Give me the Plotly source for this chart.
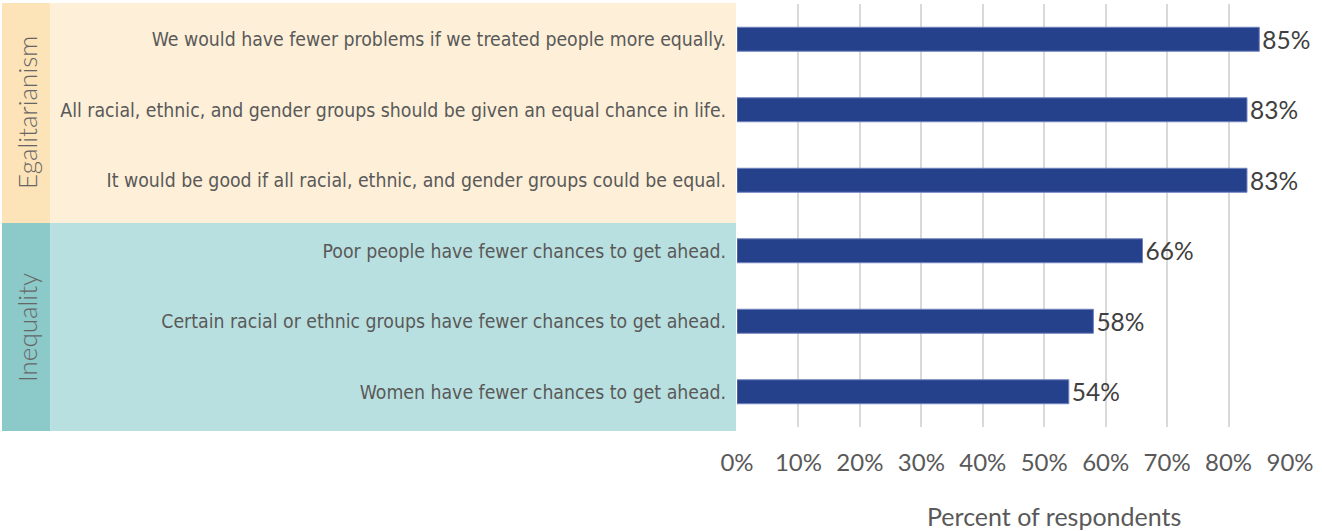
import plotly.graph_objects as go

statements = [
    "We would have fewer problems if we treated people more equally.",
    "All racial, ethnic, and gender groups should be given an equal chance in life.",
    "It would be good if all racial, ethnic, and gender groups could be equal.",
    "Poor people have fewer chances to get ahead.",
    "Certain racial or ethnic groups have fewer chances to get ahead.",
    "Women have fewer chances to get ahead.",
]
percent = [0.85, 0.83, 0.83, 0.66, 0.58, 0.54]
groups = ["Egalitarianism", "Inequality"]
x_ticks = [0, 0.1, 0.2, 0.3, 0.4, 0.5, 0.6, 0.7, 0.8, 0.9]
x_tick_labels = ["0%", "10%", "20%", "30%", "40%", "50%", "60%", "70%", "80%", "90%"]

W, H = 1322, 531
TOP, BOT = 4, 427
L, R = 737, 1290


def px_x(p):
    return p / W


def px_y(p):
    return (BOT - p) / (BOT - TOP)


fig = go.Figure()
fig.add_trace(go.Bar(
    x=percent,
    y=statements,
    orientation="h",
    marker=dict(color="#26418c", line=dict(color="#6f82bd", width=1)),
    texttemplate="%{x:.0%}",
    textposition="outside",
    constraintext="none",
    textfont=dict(family="Lato", size=24.5, color="#404040"),
    cliponaxis=False,
    hoverinfo="skip",
))

panel_colors = [("#fde3b8", "#fdefd8", 3, 223), ("#8cc9c9", "#b9e0e0", 223, 431)]
shapes = []
annotations = []
for (dark, light, y0, y1), g in zip(panel_colors, groups):
    shapes.append(dict(type="rect", xref="paper", yref="paper",
                       x0=px_x(2), x1=px_x(50.5), y0=px_y(y1), y1=px_y(y0),
                       fillcolor=dark, line=dict(width=0), layer="below"))
    shapes.append(dict(type="rect", xref="paper", yref="paper",
                       x0=px_x(50.5), x1=px_x(736), y0=px_y(y1), y1=px_y(y0),
                       fillcolor=light, line=dict(width=0), layer="below"))
    annotations.append(dict(text=g, xref="paper", yref="paper",
                            x=px_x(27), y=px_y((y0 + y1) / 2), textangle=-90,
                            showarrow=False, xanchor="center", yanchor="middle",
                            font=dict(family="Lato", size=26, color="#666666", weight=300)))

annotations.append(dict(text="Percent of respondents", xref="paper", yref="paper",
                        x=px_x(1054), y=px_y(516), showarrow=False,
                        xanchor="center", yanchor="middle",
                        font=dict(family="Lato", size=25, color="#595959")))

fig.update_layout(
    width=W, height=H,
    margin=dict(l=0, r=0, t=TOP, b=H - BOT, pad=0),
    paper_bgcolor="white", plot_bgcolor="white",
    showlegend=False,
    bargap=0.66,
    shapes=shapes,
    annotations=annotations,
    xaxis=dict(
        domain=[px_x(L), px_x(R)],
        range=[0, 0.9],
        tickvals=x_ticks, ticktext=x_tick_labels,
        showgrid=True, gridcolor="#d9d9d9", gridwidth=2,
        zeroline=False, showline=False,
        tickfont=dict(family="Lato", size=24, color="#595959"),
        ticks="outside", ticklen=14, tickcolor="rgba(0,0,0,0)",
        automargin=False,
    ),
    yaxis=dict(
        autorange="reversed",
        showgrid=False, zeroline=False, showline=False,
        tickfont=dict(family="DejaVu Sans Condensed, Liberation Sans Narrow, sans-serif",
                      size=19.3, color="#595959"),
        ticks="outside", ticklen=6, tickcolor="rgba(0,0,0,0)",
        automargin=False,
    ),
)

fig.write_html("out.html", post_script="document.body.style.margin='0';",
               config={"displayModeBar": False})
